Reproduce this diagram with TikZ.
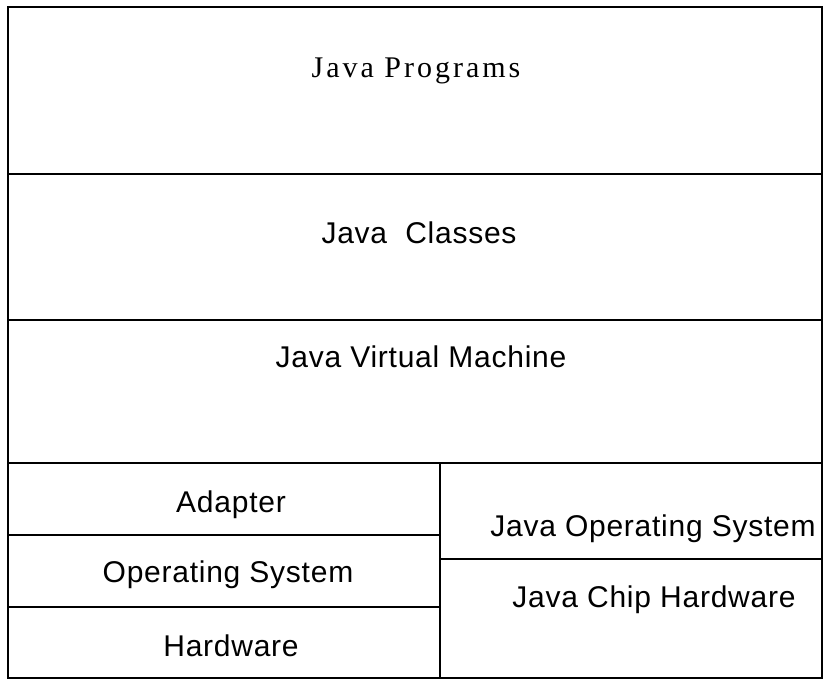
\documentclass[tikz,border=0pt]{standalone}
\usepackage{fontspec}
\setmainfont{Liberation Sans}[LetterSpace = 2.5]
\newfontfamily\progfont{Liberation Serif}[LetterSpace = 10]
\begin{document}
\begin{tikzpicture}[x = 1pt, y = -1pt]
	% Styles for the layer boxes and their labels
	\tikzset{layer/.style = {draw, line width = 1.3pt}}
	\tikzset{lbl/.style = {font = \fontsize{30}{34}\selectfont, inner sep = 0pt, anchor = base}}

	\useasboundingbox (0, 0) rectangle (825, 679);

	% Corners of the stack
	\coordinate (TL) at (8, 7);
	\coordinate (BR) at (822, 678);
	\coordinate (Mid) at (440, 678);

	% Upper full-width layers
	\draw[layer] (TL) rectangle (822, 174);
	\draw[layer] (8, 174) rectangle (822, 320);
	\draw[layer] (8, 320) rectangle (822, 463);

	% Left column
	\draw[layer] (8, 463) rectangle (440, 535);
	\draw[layer] (8, 535) rectangle (440, 607);
	\draw[layer] (8, 607) rectangle (Mid);

	% Right column
	\draw[layer] (440, 463) rectangle (822, 559);
	\draw[layer] (440, 559) rectangle (BR);

	% Labels
	\node[lbl, font = \fontsize{30}{34}\progfont] (prog) at (416, 78) {Java Programs};
	\node[lbl] (cls) at (419, 244) {Java\ \ Classes};
	\node[lbl] (jvm) at (421, 367) {Java Virtual Machine};
	\node[lbl] (adapt) at (231, 512) {Adapter};
	\node[lbl] (os) at (228, 582) {Operating System};
	\node[lbl] (hw) at (231, 656) {Hardware};
	\node[lbl] (jos) at (653, 536) {Java Operating System};
	\node[lbl] (chip) at (654, 607) {Java Chip Hardware};
\end{tikzpicture}
\end{document}
